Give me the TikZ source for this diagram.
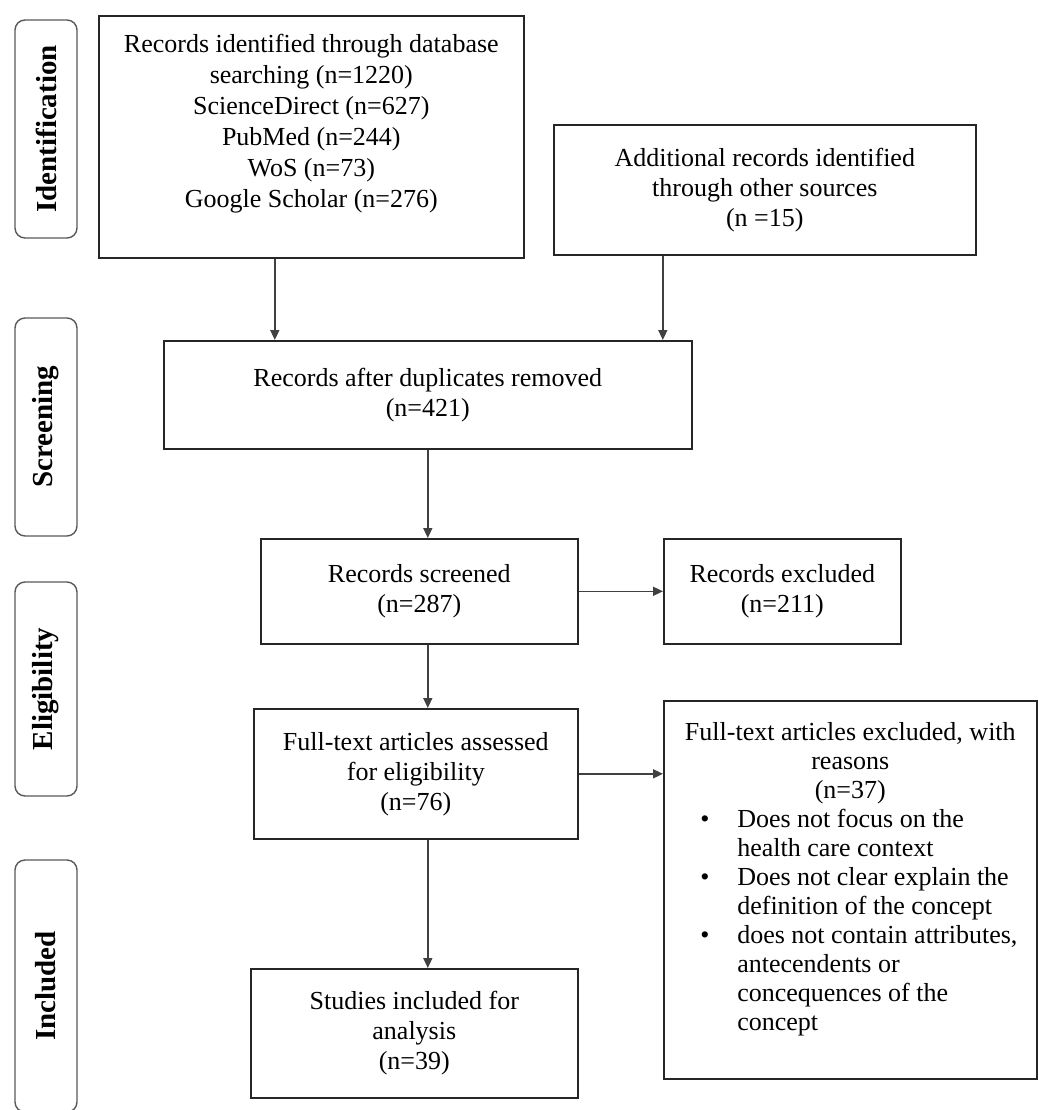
\documentclass[tikz,border=0pt]{standalone}
\usepackage{fontspec}
\setmainfont{Liberation Serif}
\usetikzlibrary{positioning,arrows.meta}

\newcommand{\reason}[1]{\par\hangindent=67pt\hangafter=1\noindent\makebox[67pt][l]{\hspace{30pt}\textbullet}#1}

\begin{document}
\begin{tikzpicture}[x=1pt, y=-1pt, >={Triangle[length=10pt,width=9pt]},
	box/.style={draw=black!85, line width=1.6pt, align=center, anchor=north west, inner sep=6pt, font=\fontsize{26pt}{30pt}\selectfont},
	phase/.style={draw=black!65, line width=1.4pt, rounded corners=10pt, rotate=90, minimum height=62pt, font=\bfseries\fontsize{29pt}{30pt}\selectfont},
	flow/.style={->, draw=black!75, line width=1.6pt}]
		\useasboundingbox (0,0) rectangle (1038,1110);

		\node[phase, minimum width=218pt] (ident) at (46,129) {Identification};
		\node[phase, minimum width=218pt] (scrn) at (46,427) {Screening};
		\node[phase, minimum width=214pt] (elig) at (46,689) {Eligibility};
		\node[phase, minimum width=252pt] (incl) at (46,986) {Included};

		\node[box, align=flush center, text width=400pt, inner xsep=12.5pt, inner ysep=18pt, text height=19pt, text depth=187pt, font=\fontsize{26pt}{31pt}\selectfont] (dbrec) at (98,15) {Records identified through database\\ searching (n=1220)\\ ScienceDirect (n=627)\\ PubMed (n=244)\\ WoS (n=73)\\ Google Scholar (n=276)};
		\node[box, minimum width=422pt, minimum height=130pt] (other) at (553,124) {Additional records identified\\ through other sources\\ (n =15)};

		\node[box, minimum width=528pt, minimum height=108pt] (dup) at (163,340) {Records after duplicates removed\\ (n=421)};
		\node[box, minimum width=317pt, minimum height=105pt] (scr) at (260,538) {Records screened\\ (n=287)};
		\node[box, minimum width=237pt, minimum height=105pt] (excl) at (663,538) {Records excluded\\ (n=211)};

		\node[box, minimum width=324pt, minimum height=130pt] (full) at (253,708) {Full-text articles assessed\\ for eligibility\\ (n=76)};
		\node[box, text width=360pt, inner xsep=6.5pt, inner ysep=21pt, text height=19pt, text depth=317pt, align=flush left, font=\fontsize{26pt}{29pt}\selectfont] (fullexcl) at (663,700) {{\centering Full-text articles excluded, with\\ reasons\\ (n=37)\par}\raggedright\parfillskip=0pt plus 1fil
			\reason{Does not focus on the\newline health care context}
			\reason{Does not clear explain the\newline definition of the concept}
			\reason{does not contain attributes,\newline antecendents or\newline concequences of the\newline concept}\par};
		\node[box, minimum width=327pt, minimum height=129pt] (stud) at (250,968) {Studies included for\\ analysis\\ (n=39)};

		\draw[flow] ([xshift=-36.5pt]dbrec.south) -- ([xshift=-36.5pt]dbrec.south |- dup.north);
		\draw[flow] ([xshift=-102pt]other.south) -- ([xshift=-102pt]other.south |- dup.north);
		\draw[flow] (dup.south) -- (dup.south |- scr.north);
		\draw[flow] (scr.east) -- (excl.west);
		\draw[flow] (dup.south |- scr.south) -- (dup.south |- full.north);
		\draw[flow] (full.east) -- (full.east -| fullexcl.west);
		\draw[flow] (dup.south |- full.south) -- (dup.south |- stud.north);
	\end{tikzpicture}
\end{document}
